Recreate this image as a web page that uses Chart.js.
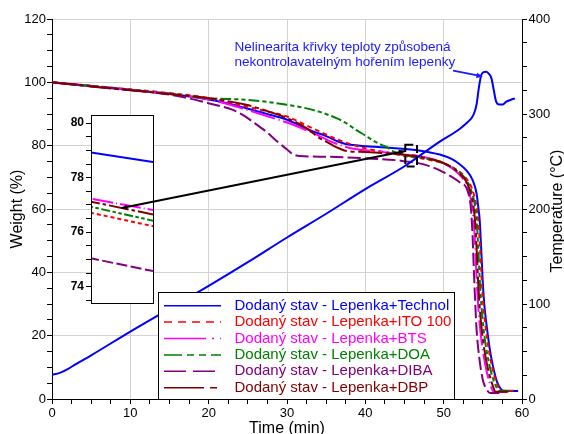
<!DOCTYPE html>
<html>
<head>
<meta charset="utf-8">
<script src="https://cdn.jsdelivr.net/npm/chart.js@4"></script>
<style>
  body { margin: 0; background: #fff; }
  #wrap { position: relative; width: 564px; height: 434px; }
  #wrap canvas { position: absolute; left: 0; top: 0; }
</style>
</head>
<body>
<div id="wrap">
  <canvas id="mainChart" width="564" height="434"></canvas>
  <canvas id="insetChart" width="564" height="434"></canvas>
</div>
<script>
const FONT = '"Liberation Sans", Arial, sans-serif';

// temperature curve (right axis, degC)
const tempTime   = [0, 1, 2, 3, 5, 10, 15, 20, 25, 30, 35, 40, 45, 49.5, 52, 53, 53.8, 54.2, 54.5, 54.8, 55.1, 55.45, 55.8, 56.1, 56.4, 56.7, 57.1, 57.5, 58, 58.6, 59.1];
const tempValues = [25.5, 27.5, 31.5, 36.5, 46, 71, 95, 119, 144, 170, 195, 221, 245, 271, 284, 291, 299, 310, 328, 341, 344, 344.5, 342, 337.5, 325, 313, 310, 310, 313, 315, 316.5];

// weight curves (left axis, %)
const techTime   = [0, 5, 10, 15, 20, 22.5, 24.8, 27.5, 30, 33, 35, 36.5, 37.5, 39.3, 42, 45.1, 46.6, 48, 49.5, 51, 52, 52.9, 53.7, 54.2, 54.4, 54.6, 54.8, 55.0, 55.2, 55.5, 55.9, 56.3, 56.8, 57.4, 57.8, 59.5];
const techWeight = [100, 98.8, 97.6, 96.4, 94.6, 93.3, 91.8, 90.0, 88.2, 84.8, 83.0, 81.3, 80.5, 80.0, 79.5, 78.92, 78.57, 78.0, 77.2, 75.8, 74.2, 72.2, 69.1, 64.9, 61, 56.5, 47, 36.5, 29.5, 22.9, 15.5, 10.3, 5.5, 2.9, 2.5, 2.5];

const itoTime   = [0, 5, 10, 15, 20, 22.5, 24.8, 27.5, 30, 33, 36.7, 40.1, 42.5, 45.1, 46.6, 48, 49.5, 51, 52, 52.9, 53.6, 54.1, 54.4, 54.65, 54.85, 55.05, 55.35, 55.8, 56.2, 56.7, 57.2, 57.6, 58.9];
const itoWeight = [100, 98.9, 97.8, 96.6, 95.1, 93.8, 92.4, 90.8, 89.2, 85.8, 81.7, 79.1, 78.0, 76.71, 76.22, 75.6, 74.8, 73.3, 71.8, 69.6, 66.5, 62, 57, 48, 38, 30, 23, 15, 10, 5.5, 3.0, 2.6, 2.6];

const btsTime   = [0, 5, 10, 15, 20, 22.5, 24.8, 27.5, 30, 31.6, 33.3, 35.9, 38.5, 41.8, 45.1, 46.6, 48, 49.5, 51, 52, 52.9, 53.3, 53.7, 53.95, 54.1, 54.25, 54.45, 54.75, 55.15, 55.6, 56.1, 56.4, 58.0];
const btsWeight = [100, 98.8, 97.6, 96.3, 94.6, 93.1, 91.4, 89.3, 87.3, 85.8, 84.0, 81.0, 79.0, 78.1, 77.23, 76.81, 76.1, 75.0, 73.0, 70.9, 67.8, 65, 59.5, 52, 44, 36, 28, 20, 13, 7.5, 3.5, 2.2, 2.2];

const doaTime   = [0, 5, 10, 15, 20, 24.8, 27.5, 30, 33.3, 36.3, 37.5, 38.8, 40, 41, 42, 42.7, 43.5, 44.3, 45.1, 46.6, 48, 49.5, 51, 52, 52.9, 53.5, 54.0, 54.25, 54.45, 54.6, 54.8, 55.1, 55.5, 56.0, 56.5, 57.0, 57.3, 58.8];
const doaWeight = [100, 98.9, 97.7, 96.4, 95.0, 94.5, 93.8, 92.9, 91.3, 88.7, 87.2, 85.0, 83.2, 81.6, 80.3, 79.6, 78.3, 77.5, 76.93, 76.42, 75.8, 74.9, 73.3, 71.6, 69.2, 66, 61, 55, 46, 38, 30, 22, 15, 9, 5, 2.8, 2.6, 2.6];

const dibaTime   = [0, 5, 10, 15, 17, 20, 21.5, 23.1, 24.5, 25.6, 27.3, 29, 30, 30.7, 31.6, 35, 40, 44, 45.1, 46.6, 48, 49.5, 51, 52, 53.1, 53.5, 53.7, 53.85, 54.0, 54.2, 54.5, 55.0, 55.5, 55.9, 57.6];
const dibaWeight = [100, 98.8, 97.6, 96.1, 95.2, 93.4, 92.5, 91.3, 89.5, 87.6, 84.5, 80.8, 78.8, 77.4, 76.7, 76.5, 76.0, 75.4, 75.04, 74.57, 73.7, 72.2, 70.2, 68.5, 65.4, 59.6, 51, 41, 32, 22, 14, 6, 3, 1.9, 1.9];

const dbpTime   = [0, 5, 10, 15, 20, 24.8, 27.5, 30, 32.5, 34.2, 35, 35.9, 36.7, 37.6, 40, 42, 45.1, 46.6, 48, 49.5, 51, 52, 52.9, 53.4, 53.85, 54.1, 54.25, 54.4, 54.6, 54.9, 55.3, 55.8, 56.3, 56.6, 58.3];
const dbpWeight = [100, 98.7, 97.5, 96.3, 95.0, 92.9, 90.9, 88.7, 85.5, 82.3, 81.3, 80.0, 79.1, 78.3, 78.0, 77.7, 77.12, 76.65, 76.0, 75.0, 73.2, 71.3, 68.6, 65.5, 60, 53, 45, 37, 29, 21, 14, 8, 4, 2.3, 2.3];

const seriesLabels = [
  'Dodaný stav - Lepenka+Technol',
  'Dodaný stav - Lepenka+ITO 100',
  'Dodaný stav - Lepenka+BTS',
  'Dodaný stav - Lepenka+DOA',
  'Dodaný stav - Lepenka+DIBA',
  'Dodaný stav - Lepenka+DBP'
];
const seriesTimes = [techTime, itoTime, btsTime, doaTime, dibaTime, dbpTime];
const seriesWeights = [techWeight, itoWeight, btsWeight, doaWeight, dibaWeight, dbpWeight];
const seriesColors = ['#0000ff', '#ff0000', '#ff00ff', '#008000', '#800080', '#800000'];
const seriesDashes = [[], [8, 6], [42, 6, 2, 6], [18, 5, 7, 5, 7, 5], [22, 7], [40, 6, 7, 6]];

// tick labels
const timeTickLabels = [0, 10, 20, 30, 40, 50, 60];
const weightTickLabels = [0, 20, 40, 60, 80, 100, 120];
const tempTickLabels = [0, 100, 200, 300, 400];
const insetTickLabels = [74, 76, 78, 80];

// zoomed window shown in the inset, and the connector to it
const insetTimeRange = [45.1, 46.6];
const insetWeightRange = [73.4, 80.3];
const connectorTime = [8.9, 45.1];
const connectorWeight = [60.3, 78.3];

const annotationLines = ['Nelinearita křivky teploty způsobená', 'nekontrolavatelným hořením lepenky'];
const annotationAt = { time: 23.3, weight: 111 };
const annotationArrowTime = [51.2, 55.0];
const annotationArrowWeight = [103.7, 101.8];

const gridColor = '#d3d3d3';

function toPoints(xs, ys) {
  return xs.map((x, i) => ({ x: x, y: ys[i] }));
}
function majorGrid(list) {
  return ctx => (ctx.tick && list.includes(ctx.tick.value)) ? gridColor : 'rgba(0,0,0,0)';
}
function majorLabel(list) {
  return v => list.includes(v) ? String(v) : '';
}

function arrowHead(ctx, x1, y1, x2, y2, size) {
  const a = Math.atan2(y2 - y1, x2 - x1);
  ctx.beginPath();
  ctx.moveTo(x2, y2);
  ctx.lineTo(x2 - size * Math.cos(a - 0.4), y2 - size * Math.sin(a - 0.4));
  ctx.lineTo(x2 - size * Math.cos(a + 0.4), y2 - size * Math.sin(a + 0.4));
  ctx.closePath();
  ctx.fill();
}

const weightDatasets = seriesLabels.map((label, i) => ({
  label: label,
  data: toPoints(seriesTimes[i], seriesWeights[i]),
  borderColor: seriesColors[i],
  borderDash: seriesDashes[i].map(d => d * 0.6),
  borderWidth: 2,
  pointRadius: 0,
  cubicInterpolationMode: 'monotone',
  yAxisID: 'y',
  order: 6 - i
}));

const tempDataset = {
  label: 'Temperature',
  data: toPoints(tempTime, tempValues),
  borderColor: '#0000ff',
  borderWidth: 2,
  pointRadius: 0,
  cubicInterpolationMode: 'monotone',
  yAxisID: 'yT',
  order: 0
};

const decorPlugin = {
  id: 'decor',
  afterDraw(chart) {
    const ctx = chart.ctx;
    const area = chart.chartArea;
    const sx = chart.scales.x, sy = chart.scales.y;
    ctx.save();

    // axis titles
    ctx.fillStyle = '#000';
    ctx.font = '16px ' + FONT;
    ctx.textAlign = 'center';
    ctx.textBaseline = 'alphabetic';
    ctx.fillText('Time (min)', (area.left + area.right) / 2, 432.5);
    ctx.save();
    ctx.translate(17.5, (area.top + area.bottom) / 2);
    ctx.rotate(-Math.PI / 2);
    ctx.textBaseline = 'middle';
    ctx.fillText('Weight (%)', 0, 0);
    ctx.restore();
    ctx.save();
    ctx.translate(558, (area.top + area.bottom) / 2 + 2);
    ctx.rotate(-Math.PI / 2);
    ctx.textBaseline = 'middle';
    ctx.fillText('Temperature (°C)', 0, 0);
    ctx.restore();

    // annotation text and arrow
    ctx.fillStyle = '#1a1aff';
    ctx.strokeStyle = '#1a1aff';
    ctx.font = '13.5px ' + FONT;
    ctx.textAlign = 'left';
    ctx.textBaseline = 'middle';
    const ax = sx.getPixelForValue(annotationAt.time);
    const ay = sy.getPixelForValue(annotationAt.weight);
    annotationLines.forEach((line, i) => ctx.fillText(line, ax, ay + i * 15));
    const x1 = sx.getPixelForValue(annotationArrowTime[0]);
    const y1 = sy.getPixelForValue(annotationArrowWeight[0]);
    const x2 = sx.getPixelForValue(annotationArrowTime[1]);
    const y2 = sy.getPixelForValue(annotationArrowWeight[1]);
    ctx.lineWidth = 2;
    ctx.beginPath();
    ctx.moveTo(x1, y1);
    ctx.lineTo(x2 - 4, y2 - 1);
    ctx.stroke();
    arrowHead(ctx, x1, y1, x2, y2, 7);

    // legend box
    const lx = 158, ly = 292, lw = 296, lh = area.bottom - ly;
    ctx.fillStyle = '#fff';
    ctx.fillRect(lx, ly, lw, lh);
    ctx.strokeStyle = '#000';
    ctx.lineWidth = 1;
    ctx.strokeRect(lx + 0.5, ly + 0.5, lw, lh);
    ctx.font = '15px ' + FONT;
    ctx.textBaseline = 'middle';
    seriesLabels.forEach((label, i) => {
      const y = ly + 13.7 + i * 16.4;
      ctx.strokeStyle = seriesColors[i];
      ctx.lineWidth = 1.5;
      ctx.setLineDash(seriesDashes[i]);
      ctx.beginPath();
      ctx.moveTo(164, y);
      ctx.lineTo(221, y);
      ctx.stroke();
      ctx.setLineDash([]);
      ctx.fillStyle = seriesColors[i];
      ctx.fillText(label, 234.5, y);
    });
    ctx.restore();
  }
};

const mainChart = new Chart(document.getElementById('mainChart'), {
  type: 'line',
  data: { datasets: weightDatasets.concat([tempDataset]) },
  options: {
    responsive: false,
    animation: false,
    layout: { padding: { top: 19, left: 0, right: 0, bottom: 0 } },
    plugins: { legend: { display: false }, tooltip: { enabled: false } },
    scales: {
      x: {
        type: 'linear', min: 0, max: 60,
        ticks: { stepSize: 2.5, autoSkip: false, maxRotation: 0, padding: 2, color: '#000', font: { family: FONT, size: 13 }, callback: majorLabel(timeTickLabels) },
        grid: { color: majorGrid(timeTickLabels), tickColor: '#000', tickLength: 5 },
        border: { color: '#000', width: 1 },
        afterFit: s => { s.height = 35; }
      },
      y: {
        position: 'left', min: 0, max: 120,
        ticks: { stepSize: 5, autoSkip: false, padding: 1, color: '#000', font: { family: FONT, size: 13 }, callback: majorLabel(weightTickLabels) },
        grid: { color: majorGrid(weightTickLabels), tickColor: '#000', tickLength: 5 },
        border: { color: '#000', width: 1 },
        afterFit: s => { s.width = 52; }
      },
      yT: {
        position: 'right', min: 0, max: 400,
        ticks: { stepSize: 25, autoSkip: false, padding: 1.5, color: '#000', font: { family: FONT, size: 13 }, callback: majorLabel(tempTickLabels) },
        grid: { drawOnChartArea: false, tickColor: '#000', tickLength: 5 },
        border: { color: '#000', width: 1 },
        afterFit: s => { s.width = 42; }
      }
    }
  },
  plugins: [decorPlugin]
});

const insetPlugin = {
  id: 'insetFrame',
  beforeDraw(chart) {
    const a = chart.chartArea;
    chart.ctx.save();
    chart.ctx.fillStyle = '#fff';
    chart.ctx.fillRect(a.left, a.top, a.right - a.left, a.bottom - a.top);
    chart.ctx.restore();
  },
  afterDraw(chart) {
    const ctx = chart.ctx;
    const a = chart.chartArea;
    const sx = mainChart.scales.x, sy = mainChart.scales.y;
    ctx.save();
    ctx.strokeStyle = '#000';
    ctx.lineWidth = 1;
    ctx.strokeRect(a.left + 0.5, a.top + 0.5, a.right - a.left, a.bottom - a.top);

    // zoom window on the main plot
    const bx1 = sx.getPixelForValue(insetTimeRange[0]);
    const bx2 = sx.getPixelForValue(insetTimeRange[1]);
    const by1 = sy.getPixelForValue(insetWeightRange[1]);
    const by2 = sy.getPixelForValue(insetWeightRange[0]);
    ctx.lineWidth = 2;
    ctx.setLineDash([8, 4]);
    ctx.strokeRect(bx1, by1, bx2 - bx1, by2 - by1);
    ctx.setLineDash([]);

    // connector
    const cx1 = sx.getPixelForValue(connectorTime[0]);
    const cy1 = sy.getPixelForValue(connectorWeight[0]);
    const cx2 = sx.getPixelForValue(connectorTime[1]);
    const cy2 = sy.getPixelForValue(connectorWeight[1]);
    ctx.beginPath();
    ctx.moveTo(cx1, cy1);
    ctx.lineTo(cx2, cy2);
    ctx.stroke();
    ctx.fillStyle = '#000';
    arrowHead(ctx, cx1, cy1, cx2, cy2, 7);
    arrowHead(ctx, cx2, cy2, cx1, cy1, 6);
    ctx.restore();
  }
};

new Chart(document.getElementById('insetChart'), {
  type: 'line',
  data: {
    datasets: seriesLabels.map((label, i) => ({
      label: label,
      data: toPoints(seriesTimes[i], seriesWeights[i]),
      borderColor: seriesColors[i],
      borderDash: seriesDashes[i].map(d => d / 2),
      borderWidth: 2,
      pointRadius: 0,
      tension: 0,
      order: 6 - i
    }))
  },
  options: {
    responsive: false,
    animation: false,
    layout: { padding: { left: 61, top: 115, right: 411, bottom: 131 } },
    plugins: { legend: { display: false }, tooltip: { enabled: false } },
    scales: {
      x: { type: 'linear', min: insetTimeRange[0], max: insetTimeRange[1], display: false },
      y: {
        min: insetWeightRange[0], max: insetWeightRange[1],
        ticks: { autoSkip: false, padding: 2, color: '#000', font: { family: FONT, size: 12, weight: 'bold' }, callback: majorLabel(insetTickLabels) },
        grid: { display: true, drawTicks: true, drawOnChartArea: false, color: '#000', tickColor: '#000', tickWidth: 1, tickLength: 5 },
        border: { display: true, color: '#000', width: 1 },
        afterBuildTicks: s => {
          const ticks = [];
          for (let v = Math.ceil(insetWeightRange[0] * 2) / 2; v <= insetWeightRange[1]; v += 0.5) ticks.push({ value: v });
          s.ticks = ticks;
        },
        afterFit: s => { s.width = 30; }
      }
    }
  },
  plugins: [insetPlugin]
});
</script>
</body>
</html>
